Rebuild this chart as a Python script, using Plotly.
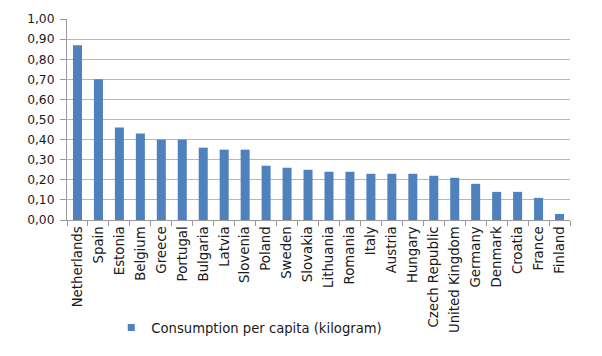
import plotly.graph_objects as go

countries = ["Netherlands", "Spain", "Estonia", "Belgium", "Greece", "Portugal",
             "Bulgaria", "Latvia", "Slovenia", "Poland", "Sweden", "Slovakia",
             "Lithuania", "Romania", "Italy", "Austria", "Hungary", "Czech Republic",
             "United Kingdom", "Germany", "Denmark", "Croatia", "France", "Finland"]
consumption = [0.87, 0.70, 0.46, 0.43, 0.40, 0.40, 0.36, 0.35, 0.35, 0.27, 0.26, 0.25,
               0.24, 0.24, 0.23, 0.23, 0.23, 0.22, 0.21, 0.18, 0.14, 0.14, 0.11, 0.03]
series_name = "Consumption per capita (kilogram)"
y_ticks = [0, 0.1, 0.2, 0.3, 0.4, 0.5, 0.6, 0.7, 0.8, 0.9, 1.0]
y_tick_labels = ["0,00", "0,10", "0,20", "0,30", "0,40", "0,50",
                 "0,60", "0,70", "0,80", "0,90", "1,00"]

BAR = "#4F81BD"
FONT = "DejaVu Sans"

fig = go.Figure()
fig.add_trace(go.Bar(x=countries, y=consumption, marker_color=BAR,
                     marker_line_width=0, showlegend=False, name=series_name))
fig.add_trace(go.Scatter(x=[countries[0]], y=[None], mode="markers",
                         marker=dict(symbol="square", size=7, color=BAR),
                         name=series_name, showlegend=True))

fig.update_layout(
    width=602, height=356,
    margin=dict(l=67, r=32, t=17, b=134),
    paper_bgcolor="white", plot_bgcolor="white",
    font=dict(family=FONT, size=12, color="#1a1a1a"),
    bargap=0.57,
    showlegend=True,
    legend=dict(orientation="h", x=0.088, xanchor="left", y=-0.537, yanchor="middle",
                font=dict(size=13.2, family=FONT, color="#1a1a1a"),
                itemwidth=30, bgcolor="rgba(0,0,0,0)"),
)
fig.update_xaxes(
    type="category", tickangle=-90, tickson="boundaries",
    ticks="outside", ticklen=5, tickcolor="#999999",
    showline=True, linecolor="#999999", linewidth=1,
    showgrid=False, tickfont=dict(size=13.3, family=FONT, color="#1a1a1a"),
    range=[-0.5, len(countries) - 0.5],
)
fig.update_yaxes(
    range=[0, 1.0], tickvals=y_ticks, ticktext=y_tick_labels,
    ticks="outside", ticklen=6, tickcolor="#999999",
    showline=True, linecolor="#999999", linewidth=1,
    showgrid=True, gridcolor="#b8b8b8", gridwidth=1,
    zeroline=False, ticklabelstandoff=3,
    tickfont=dict(size=12.3, family=FONT, color="#1a1a1a"),
)

fig.write_html("out.html", config={"displayModeBar": False},
               post_script="document.body.style.margin='0';")
